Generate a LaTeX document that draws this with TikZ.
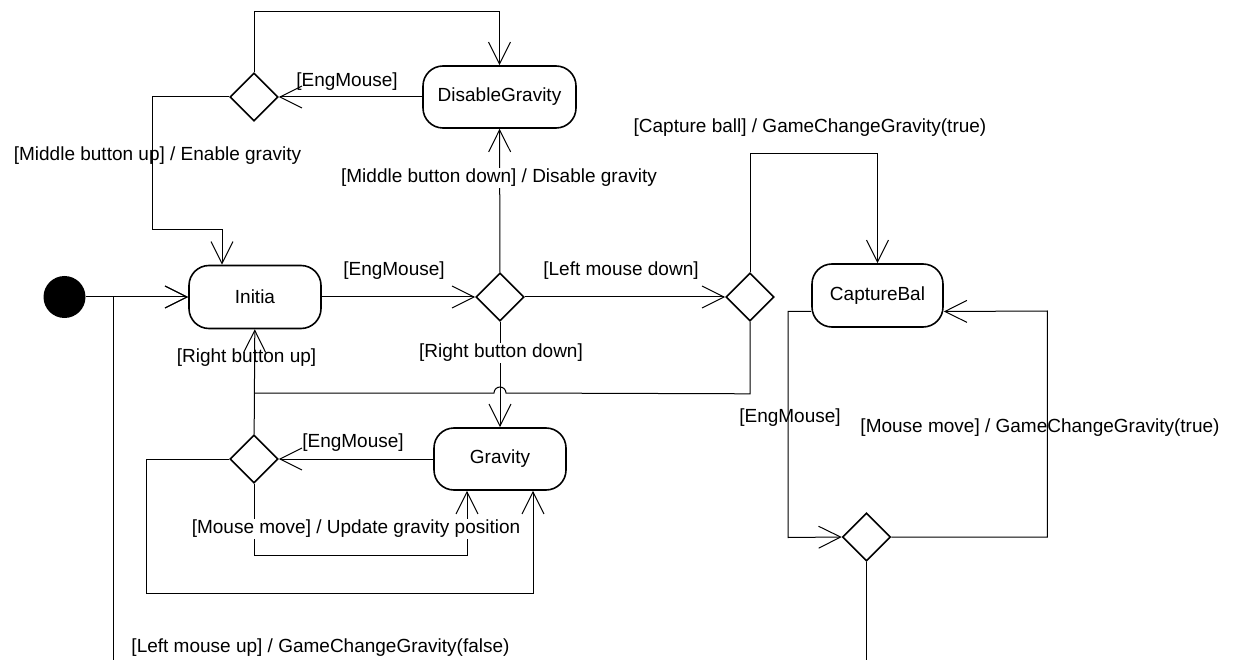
\documentclass[tikz,border=0pt]{standalone}
\usepackage{fontspec}
\setmainfont{Liberation Sans}
\usepackage{tikz}
\usetikzlibrary{shapes.geometric, arrows.meta}
\newcommand{\guardfont}{\fontsize{19}{22}\selectfont}
\tikzset{
  state/.style={draw, rounded corners=20pt, minimum width=132pt, minimum height=63pt, line width=1.6pt, font=\guardfont},
  choice/.style={draw, diamond, minimum width=48pt, minimum height=48pt, inner sep=0pt, line width=1.6pt},
  wire/.style={line width=1pt},
  flow/.style={wire, -{Straight Barb[length=22pt, width=22pt]}},
  guard/.style={font=\guardfont, inner sep=1pt},
  guard bg/.style={guard, fill=white}
}
\begin{document}
\begin{tikzpicture}[x=1pt, y=-1pt]
\useasboundingbox (0,0) rectangle (1242,660);
\node[circle, fill=black, minimum size=42pt, inner sep=0pt] (start) at (64.5,297) {};
\node[state] (initia) at (255,297) {Initia};
\node[state, minimum width=153pt, minimum height=62pt] (disgrav) at (499.5,97) {DisableGravity};
\node[state, minimum width=131pt] (capball) at (877.5,295.5) {CaptureBal};
\node[state, minimum height=62pt] (gravity) at (500,459) {Gravity};
\node[choice] (d1) at (254,97) {};
\node[choice] (d2) at (500,297) {};
\node[choice] (d3) at (750,297) {};
\node[choice] (d4) at (254,459) {};
\node[choice] (d5) at (866.5,537) {};
\coordinate (lmu) at (113,660);
\coordinate (cbout) at (866.5,660);
\coordinate (join) at (254,393);
\draw[flow] (start) -- (initia);
\draw[flow] (lmu) |- (initia.west);
\draw[flow] (initia) -- (d2);
\draw[flow] (d2) -- (d3);
\draw[flow] (d2) -- (disgrav);
\draw[flow] (disgrav) -- (d1);
\draw[flow] (d1.north) -- ++(0,-61) -| (disgrav.north);
\draw[flow] (d1.west) -| ++(-77,133) -| ([xshift=-33pt]initia.north);
\draw[flow] (d3.north) -- ++(0,-119) -| (capball.north);
\draw[wire] (d3.south) -- ++(0,72) -- (506,393) arc (0:-180:6) -- (join);
\draw[flow] (d4) -- (initia);
\draw[flow] (d2) -- (gravity);
\draw[flow] (gravity) -- (d4);
\draw[flow] (d4.west) -| ++(-83,134) -| ([xshift=33pt]gravity.south);
\draw[flow] (d4.south) -- ++(0,72) -| ([xshift=-33pt]gravity.south);
\draw[flow] ([yshift=-16pt]capball.west) -| ++(-23,226) -- (d5.west);
\draw[flow] (d5.east) -| ++(156,-226) -- ([yshift=-16pt]capball.east);
\draw[wire] (d5) -- (cbout);
\node[guard] at (394,271) {[EngMouse]};
\node[guard] at (621,271) {[Left mouse down]};
\node[guard bg] at (499,178) {[Middle button down] / Disable gravity};
\node[guard] at (347,82) {[EngMouse]};
\node[guard] at (157.5,156) {[Middle button up] / Enable gravity};
\node[guard] at (810,128) {[Capture ball] / GameChangeGravity(true)};
\node[guard] at (246.5,358) {[Right button up]};
\node[guard bg] at (501,353) {[Right button down]};
\node[guard] at (353,443) {[EngMouse]};
\node[guard bg] at (356,529) {[Mouse move] / Update gravity position};
\node[guard] at (790,418) {[EngMouse]};
\node[guard] at (1040,428) {[Mouse move] / GameChangeGravity(true)};
\node[guard] at (320.5,648) {[Left mouse up] / GameChangeGravity(false)};
\end{tikzpicture}
\end{document}
